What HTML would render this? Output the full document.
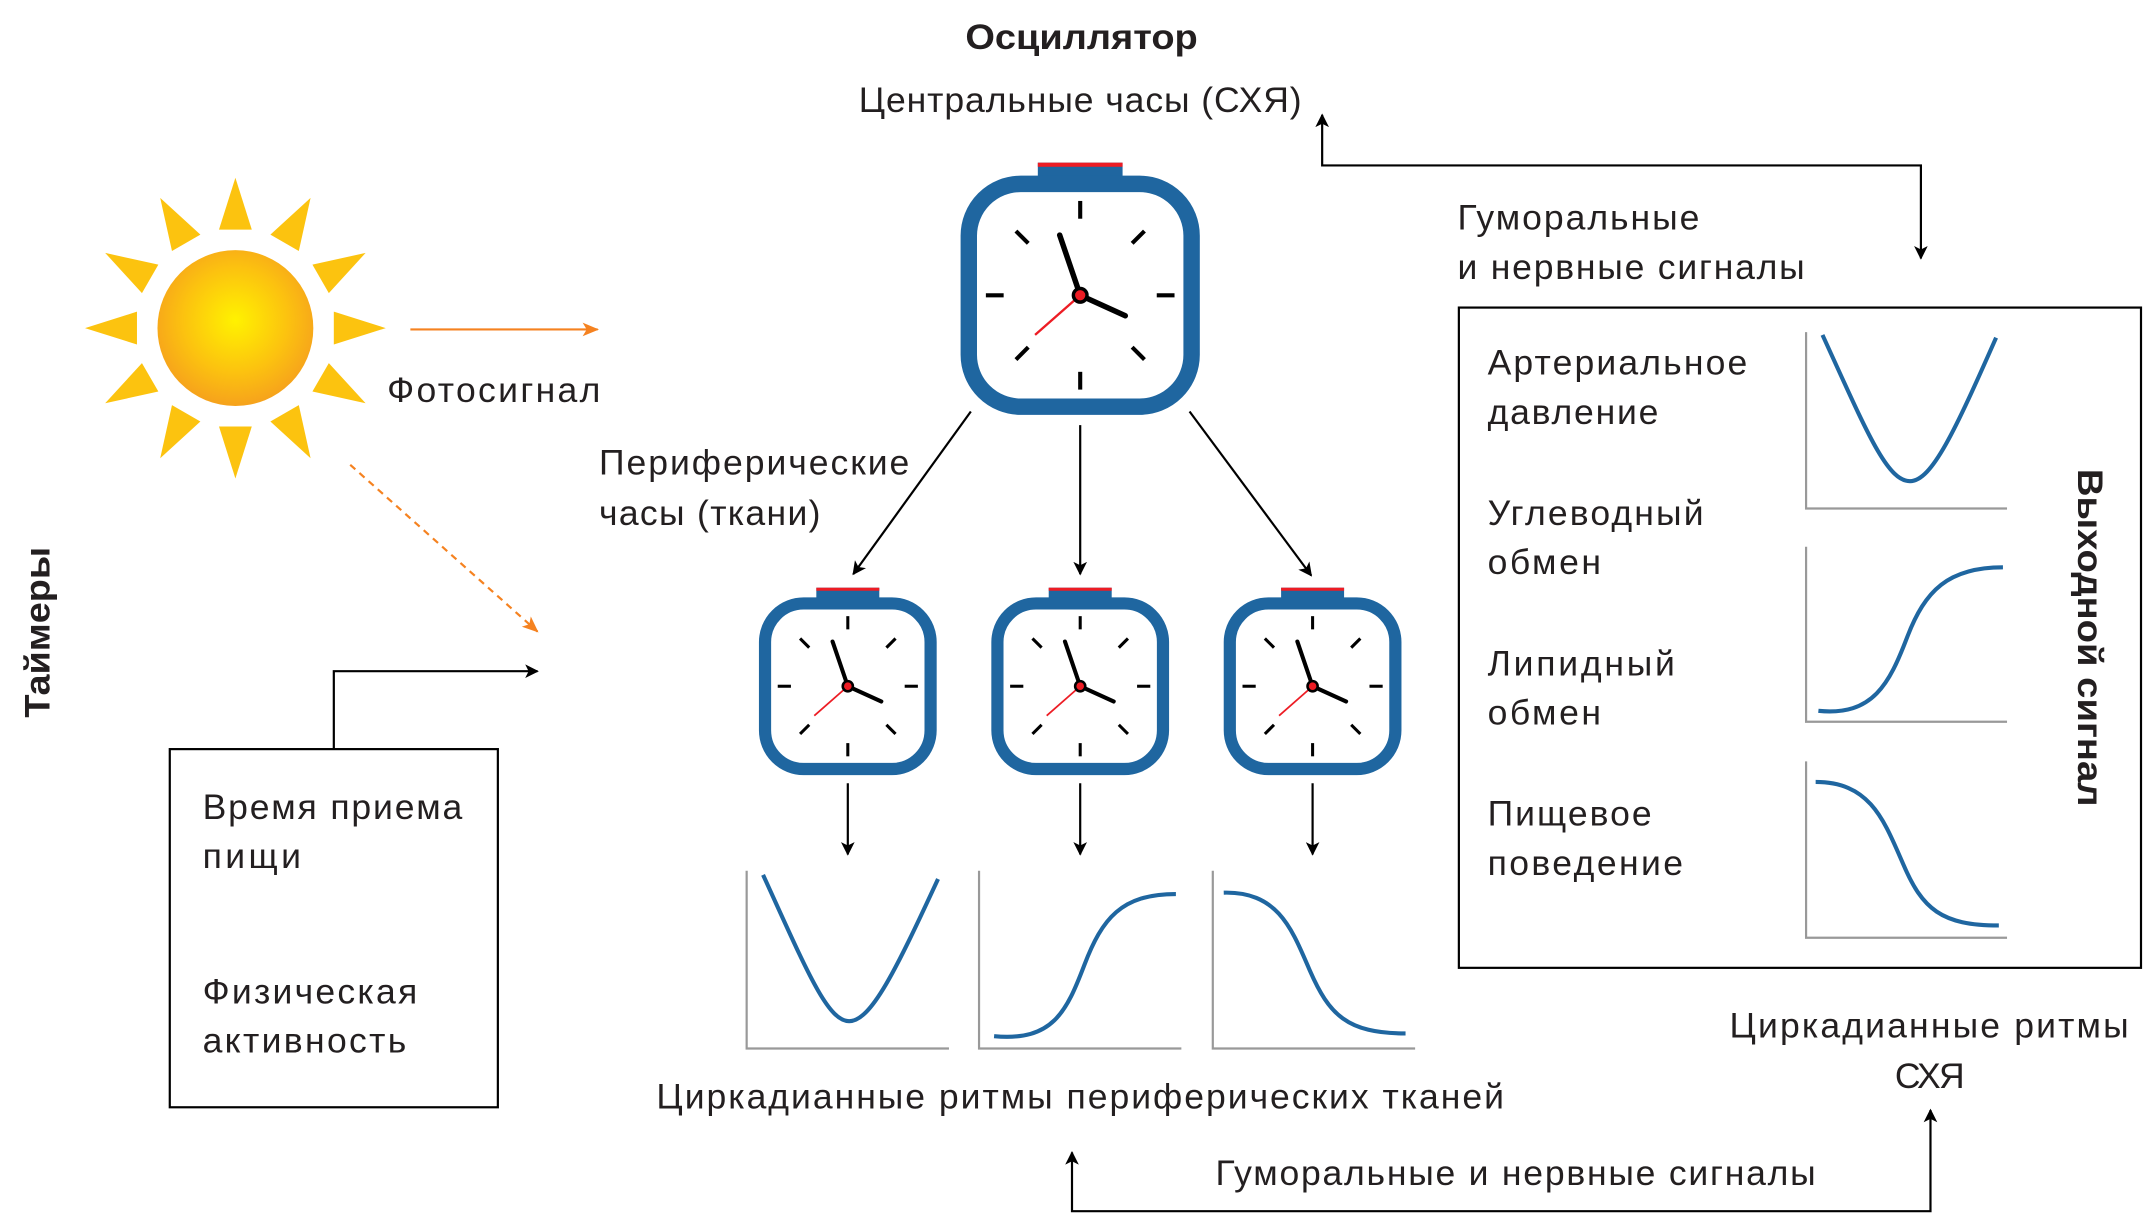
<!DOCTYPE html>
<html><head><meta charset="utf-8"><style>
html,body{margin:0;padding:0;background:#fff}
svg{display:block}
text{font-family:"Liberation Sans",sans-serif;fill:#231f20}
</style></head><body>
<svg width="2144" height="1218" viewBox="0 0 1568 891" xmlns="http://www.w3.org/2000/svg">
<defs>
<radialGradient id="sg" cx="0.5" cy="0.45" r="0.55">
<stop offset="0" stop-color="#fff200"/><stop offset="0.6" stop-color="#fcc30f"/><stop offset="1" stop-color="#f6a21c"/>
</radialGradient>
<marker id="ab" markerWidth="10" markerHeight="10" refX="9" refY="5" orient="auto-start-reverse" markerUnits="userSpaceOnUse"><path d="M0,0 L10,5 L0,10 L2.5,5z" fill="#000"/></marker>
<marker id="ao" markerWidth="12" markerHeight="10" refX="11" refY="5" orient="auto" markerUnits="userSpaceOnUse"><path d="M0,0 L12,5 L0,10 L3,5z" fill="#f58220"/></marker>
<g id="clk">
<rect x="-31" y="-97" width="62" height="10" fill="#1f66a0"/>
<rect x="-31" y="-97" width="62" height="3" fill="#ed1c24"/>
<rect x="-81.5" y="-81.5" width="163" height="163" rx="38" fill="#fff" stroke="#1f66a0" stroke-width="12"/>
<g stroke="#000" stroke-width="3">
<line x1="0" y1="-69" x2="0" y2="-56"/><line x1="0" y1="56" x2="0" y2="69"/>
<line x1="-69" y1="0" x2="-56" y2="0"/><line x1="56" y1="0" x2="69" y2="0"/>
<line x1="-47" y1="-47" x2="-38" y2="-38"/><line x1="47" y1="-47" x2="38" y2="-38"/>
<line x1="-47" y1="47" x2="-38" y2="38"/><line x1="47" y1="47" x2="38" y2="38"/>
</g>
<line x1="0" y1="0" x2="-33" y2="29" stroke="#ed1c24" stroke-width="1.7"/>
<line x1="0" y1="0" x2="-15" y2="-44" stroke="#000" stroke-width="4" stroke-linecap="round"/>
<line x1="0" y1="0" x2="33" y2="15" stroke="#000" stroke-width="4" stroke-linecap="round"/>
<circle r="5" fill="#ed1c24" stroke="#000" stroke-width="2.5"/>
</g>
</defs>

<g transform="translate(172,240)" fill="#fcc30f">
<g id="ray"><polygon points="-12,-72 12,-72 0,-110"/></g>
<use href="#ray" transform="rotate(30)"/><use href="#ray" transform="rotate(60)"/><use href="#ray" transform="rotate(90)"/>
<use href="#ray" transform="rotate(120)"/><use href="#ray" transform="rotate(150)"/><use href="#ray" transform="rotate(180)"/>
<use href="#ray" transform="rotate(210)"/><use href="#ray" transform="rotate(240)"/><use href="#ray" transform="rotate(270)"/>
<use href="#ray" transform="rotate(300)"/><use href="#ray" transform="rotate(330)"/>
<circle r="57" fill="url(#sg)"/>
</g>
<line x1="300" y1="241" x2="437" y2="241" stroke="#f58220" stroke-width="1.6" marker-end="url(#ao)"/>
<line x1="256" y1="340" x2="393" y2="462" stroke="#f58220" stroke-width="1.6" stroke-dasharray="5,4" marker-end="url(#ao)"/>

<g font-size="26" lengthAdjust="spacingAndGlyphs">
<text x="283" y="294" textLength="156">Фотосигнал</text>
<text x="148" y="599" textLength="190">Время приема</text>
<text x="148" y="635" textLength="72">пищи</text>
<text x="148" y="734" textLength="157">Физическая</text>
<text x="148" y="770" textLength="149">активность</text>
<text x="628" y="82" textLength="324">Центральные часы (СХЯ)</text>
<text x="438" y="347" textLength="227">Периферические</text>
<text x="438" y="384" textLength="162">часы (ткани)</text>
<text x="480" y="811" textLength="620">Циркадианные ритмы периферических тканей</text>
<text x="1066" y="168" textLength="177">Гуморальные</text>
<text x="1066" y="204" textLength="254">и нервные сигналы</text>
<text x="1088" y="274" textLength="190">Артериальное</text>
<text x="1088" y="310" textLength="125">давление</text>
<text x="1088" y="384" textLength="158">Углеводный</text>
<text x="1088" y="420" textLength="83">обмен</text>
<text x="1088" y="494" textLength="137">Липидный</text>
<text x="1088" y="530" textLength="83">обмен</text>
<text x="1088" y="604" textLength="120">Пищевое</text>
<text x="1088" y="640" textLength="143">поведение</text>
<text x="1265" y="759" textLength="292">Циркадианные ритмы</text>
<text x="1386" y="796" textLength="51">СХЯ</text>
<text x="889" y="867" textLength="439">Гуморальные и нервные сигналы</text>
</g>
<text x="706" y="36" font-size="26" font-weight="bold" textLength="170" lengthAdjust="spacingAndGlyphs">Осциллятор</text>
<text transform="translate(36,525) rotate(-90)" font-size="26" font-weight="bold" textLength="125" lengthAdjust="spacingAndGlyphs">Таймеры</text>
<text transform="translate(1520,343) rotate(90)" font-size="26" font-weight="bold" textLength="247" lengthAdjust="spacingAndGlyphs">Выходной сигнал</text>

<rect x="124" y="548" width="240" height="262" fill="none" stroke="#000" stroke-width="1.6"/>
<polyline points="244,548 244,491 393,491" fill="none" stroke="#000" stroke-width="1.6" marker-end="url(#ab)"/>

<use href="#clk" transform="translate(790,216)"/>
<use href="#clk" transform="translate(620,502) scale(0.743)"/>
<use href="#clk" transform="translate(790,502) scale(0.743)"/>
<use href="#clk" transform="translate(960,502) scale(0.743)"/>

<g stroke="#000" stroke-width="1.6" fill="none">
<line x1="710" y1="301" x2="624" y2="420" marker-end="url(#ab)"/>
<line x1="790" y1="311" x2="790" y2="420" marker-end="url(#ab)"/>
<line x1="870" y1="301" x2="959" y2="421" marker-end="url(#ab)"/>
<line x1="620" y1="573" x2="620" y2="625" marker-end="url(#ab)"/>
<line x1="790" y1="573" x2="790" y2="625" marker-end="url(#ab)"/>
<line x1="960" y1="573" x2="960" y2="625" marker-end="url(#ab)"/>
<polyline points="1405,189 1405,121 967,121 967,84" marker-start="url(#ab)" marker-end="url(#ab)"/>
<polyline points="784,843 784,886 1412,886 1412,812" marker-start="url(#ab)" marker-end="url(#ab)"/>
</g>

<g stroke="#999" stroke-width="1.6" fill="none">
<polyline points="546,637 546,767 694,767"/><polyline points="716,637 716,767 864,767"/><polyline points="887,637 887,767 1035,767"/>
<polyline points="1321,243 1321,372 1468,372"/><polyline points="1321,400 1321,528 1468,528"/><polyline points="1321,557 1321,686 1468,686"/>
</g>
<g stroke="#1f66a0" stroke-width="3" fill="none">
<path d="M558,640 C590,710 605,747 621,747 C637,747 655,710 686,643"/>
<path d="M727,758 C770,762 780,740 793,706 C806,672 820,654 860,654"/>
<path d="M895,653 C935,652 945,680 958,710 C972,742 985,756 1028,756"/>
<path d="M1333,245 C1365,315 1380,352 1397,352 C1413,352 1430,315 1460,247"/>
<path d="M1330,520 C1370,524 1382,500 1395,466 C1408,432 1425,415 1465,415"/>
<path d="M1328,572 C1368,572 1378,600 1392,632 C1406,665 1420,677 1462,677"/>
</g>
<rect x="1067" y="225" width="499" height="483" fill="none" stroke="#000" stroke-width="1.6"/>
</svg>
</body></html>
